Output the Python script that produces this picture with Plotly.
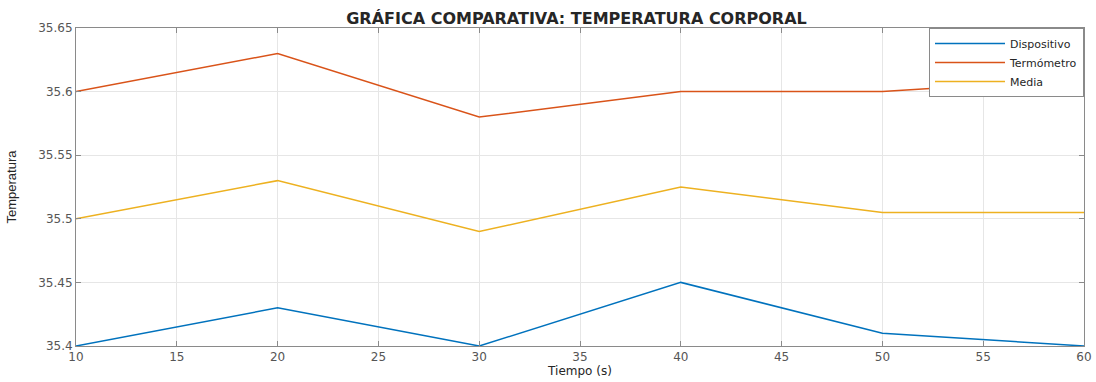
import plotly.graph_objects as go

tiempo = [10, 20, 30, 40, 50, 60]
dispositivo = [35.40, 35.43, 35.40, 35.45, 35.41, 35.40]
termometro = [35.60, 35.63, 35.58, 35.60, 35.60, 35.61]
media = [35.50, 35.53, 35.49, 35.525, 35.505, 35.505]

series = [
    ("Dispositivo", dispositivo, "#0072BD"),
    ("Termómetro", termometro, "#D95319"),
    ("Media", media, "#EDB120"),
]

FONT = "DejaVu Sans, Liberation Sans, Arial"

fig = go.Figure()
for name, vals, col in series:
    fig.add_trace(go.Scatter(x=tiempo, y=vals, mode="lines", name=name,
                             line=dict(color=col, width=1.5)))

axis_common = dict(showline=True, linecolor="#8a8a8a", linewidth=1, mirror="ticks",
                   ticks="inside", ticklen=5, tickcolor="#8a8a8a",
                   showgrid=True, gridcolor="#e6e6e6", zeroline=False, automargin=False,
                   tickfont=dict(family=FONT, size=12, color="#555555"))

fig.update_layout(
    width=1096, height=382,
    margin=dict(l=76, r=12, t=28, b=36),
    paper_bgcolor="white", plot_bgcolor="white",
    title=dict(text="<b>GRÁFICA COMPARATIVA: TEMPERATURA CORPORAL</b>",
               x=0.526, xanchor="center", y=0.952, yanchor="middle",
               font=dict(family=FONT, size=16, color="#262626")),
    xaxis=dict(range=[10, 60], dtick=5, tick0=10,
               title=dict(text="Tiempo (s)", standoff=2,
                          font=dict(family=FONT, size=12, color="#262626")),
               **axis_common),
    yaxis=dict(range=[35.4, 35.65], dtick=0.05, tick0=35.4,
               title=dict(text="Temperatura", standoff=18,
                          font=dict(family="Liberation Sans Narrow, Liberation Sans, Arial", size=13, color="#262626")),
               **axis_common),
    legend=dict(x=1, xanchor="right", y=1, yanchor="top",
                bgcolor="white", bordercolor="#8a8a8a", borderwidth=1,
                font=dict(family=FONT, size=11, color="#262626"),
                tracegroupgap=0, itemwidth=70),
    showlegend=True,
)

fig.write_html("out.html", config={"displayModeBar": False},
               post_script="document.body.style.margin='0';")
